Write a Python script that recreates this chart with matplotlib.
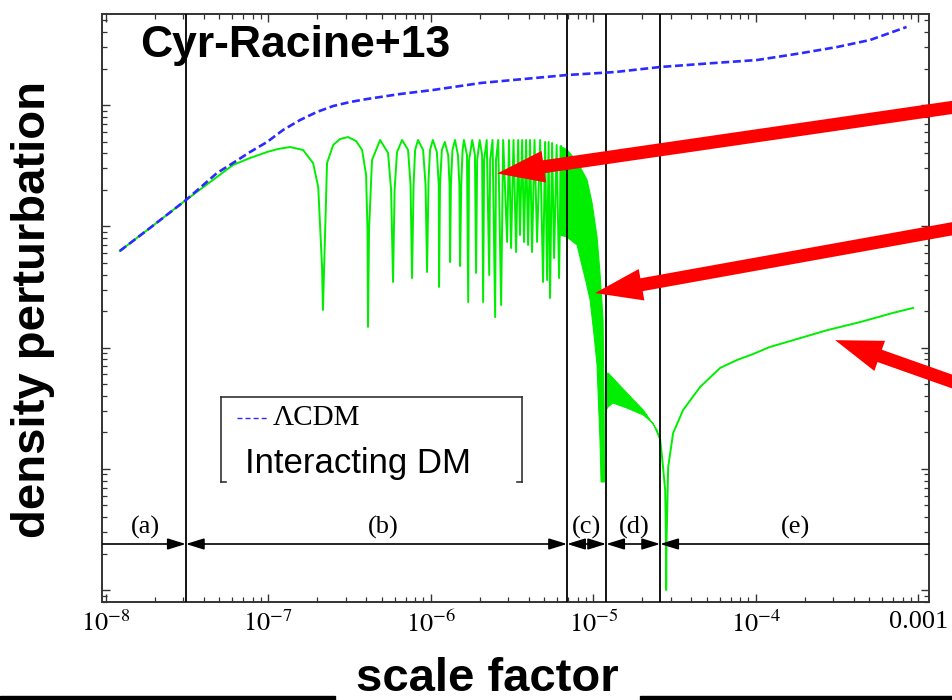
import numpy as np
import matplotlib
matplotlib.use("Agg")
import matplotlib.pyplot as plt
from matplotlib.lines import Line2D
from matplotlib.patches import Rectangle
from matplotlib.ticker import NullFormatter

plt.rcParams['mathtext.fontset'] = 'stix'

# ---- data (scale factor a, density perturbation delta) ----
# LCDM (dashed blue)
a_lcdm = [1.22e-8, 1.87e-8, 3.12e-8, 4.84e-8, 6.07e-8, 7.73e-8, 9.83e-8, 1.233e-7, 1.57e-7,
          1.99e-7, 2.51e-7, 3.19e-7, 4.055e-7, 6.47e-7, 1.033e-6, 2.03e-6, 6.90e-6, 1.362e-5,
          2.58e-5, 5.23e-5, 1.02e-4, 1.873e-4, 3.17e-4, 5.05e-4, 8.47e-4]
d_lcdm = [625, 967, 1647, 2750, 3324, 4097, 4953, 6220, 7520,
          8753, 9812, 10585, 11206, 12320, 13297, 15186, 17677, 18700,
          20579, 22075, 23500, 26670, 30090, 34360, 43990]

# Interacting DM: growth + acoustic oscillations (green)
a_osc = [1.22e-8, 1.87e-8, 3.12e-8, 6.07e-8, 7.73e-8, 9.83e-8, 1.149e-7, 1.36e-7, 1.637e-7, 1.887e-7,
         2.03e-7, 2.143e-7, 2.17e-7,
         2.24e-7, 2.30e-7, 2.51e-7, 2.766e-7, 3.10e-7, 3.47e-7, 3.78e-7, 4.00e-7, 4.08e-7, 4.11e-7,
         4.17e-7, 4.35e-7,
         4.88e-7, 5.46e-7, 5.70e-7, 5.86e-7, 5.99e-7, 6.20e-7, 6.66e-7, 7.25e-7, 7.51e-7, 7.67e-7,
         7.84e-7, 8.01e-7, 8.35e-7, 8.97e-7, 9.29e-7, 9.49e-7, 9.69e-7, 9.90e-7, 1.03e-6, 1.09e-6,
         1.12e-6, 1.125e-6, 1.14e-6, 1.17e-6, 1.22e-6, 1.28e-6, 1.305e-6, 1.315e-6, 1.33e-6, 1.36e-6,
         1.41e-6, 1.47e-6, 1.50e-6, 1.515e-6, 1.54e-6, 1.57e-6, 1.60e-6, 1.67e-6, 1.70e-6, 1.72e-6,
         1.80e-6, 1.87e-6, 1.90e-6, 1.93e-6, 2.00e-6, 2.07e-6, 2.10e-6, 2.13e-6, 2.21e-6, 2.29e-6,
         2.32e-6, 2.40e-6, 2.49e-6, 2.52e-6, 2.60e-6, 2.71e-6, 2.79e-6, 2.95e-6, 3.03e-6, 3.12e-6,
         3.23e-6, 3.35e-6, 3.45e-6, 3.54e-6, 3.65e-6, 3.75e-6, 3.86e-6, 3.97e-6, 4.08e-6, 4.20e-6,
         4.35e-6, 4.51e-6, 4.71e-6, 4.91e-6, 5.05e-6, 5.20e-6, 5.31e-6, 5.42e-6, 5.58e-6, 5.74e-6,
         5.95e-6, 6.16e-6, 6.34e-6, 6.52e-6]
d_osc = [625, 967, 1647, 3201, 3655, 4097, 4336, 4504, 4256, 3324,
         2108, 461, 204,
         931, 3324, 4679, 5243, 5446, 5047, 4256, 2647, 931, 148,
         931, 3519,
         5144, 4019, 1991, 347, 1991, 4097, 5144, 4256, 2189, 374,
         2189, 4256, 5144, 4256, 2189, 419, 2407, 4256, 5144, 4097,
         2189, 316, 2189, 4256, 4953, 3869, 2189, 507, 2189, 4256,
         5144, 3869, 2189, 470, 2189, 4256, 5144, 3869, 237, 3519,
         5144, 3869, 412, 3519, 5144, 3869, 237, 3519, 5144, 396,
         3519, 5144, 178, 3519, 5144, 224, 5144, 742, 5144, 662,
         5144, 613, 5144, 847, 5144, 742, 5144, 701, 5144, 613,
         5144, 742, 5144, 347, 4953, 360, 4953, 256, 4861, 547,
         4679, 374, 4591, 847]

# unresolved fast oscillations during the fall-off (band outline, clockwise)
a_band_c = [6.25e-6, 6.90e-6, 7.51e-6, 8.30e-6, 9.16e-6, 9.83e-6, 1.055e-5, 1.10e-5, 1.149e-5,
            1.165e-5, 1.173e-5, 1.117e-5, 1.10e-5, 1.055e-5, 1.011e-5, 9.56e-6, 9.03e-6,
            8.66e-6, 7.95e-6, 6.90e-6, 6.25e-6]
d_band_c = [4591, 4256, 3725, 3082, 2407, 1555, 815, 412, 169,
            36.9, 7.78, 7.78, 17.3, 71.7, 127, 247, 347,
            436, 701, 815, 847]

a_band_d = [1.20e-5, 1.233e-5, 1.32e-5, 1.61e-5, 2.03e-5, 2.47e-5, 2.58e-5,
            2.33e-5, 2.03e-5, 1.61e-5, 1.32e-5, 1.233e-5, 1.20e-5]
d_band_d = [59.3, 61.6, 56.0, 42.1, 30.5, 20.9, 17.3,
            23.8, 27.8, 31.7, 34.9, 32.3, 30.5]

# late growth after the zero crossing
a_late = [2.58e-5, 2.65e-5, 2.77e-5, 2.80e-5, 2.81e-5, 2.825e-5, 2.89e-5, 3.10e-5, 3.57e-5,
          4.54e-5, 6.03e-5, 7.67e-5, 9.62e-5, 1.22e-4, 1.70e-4, 2.75e-4, 4.38e-4, 7.00e-4, 9.29e-4]
d_late = [17.3, 12.5, 6.68, 2.58, 1.0, 2.58, 10.3, 19.7, 30.5,
          47.2, 67.8, 78.9, 88.3, 101, 115, 139, 162, 193, 212]

# epoch boundaries and labels
bounds = [3.11e-8, 6.90e-6, 1.20e-5, 2.58e-5]
epoch_labels = ['(a)', '(b)', '(c)', '(d)', '(e)']
epoch_label_x = [1.745e-8, 5.09e-7, 9.03e-6, 1.78e-5, 1.745e-4]

xtick_vals = [1e-8, 1e-7, 1e-6, 1e-5, 1e-4, 1e-3]
xtick_labels = [r'$10^{-8}$', r'$10^{-7}$', r'$10^{-6}$', r'$10^{-5}$', r'$10^{-4}$', '0.001']

# arrow tips (data) for the red call-outs
arrow_tips = [(2.56e-6, 2723), (1.026e-5, 281), (3.08e-4, 115)]
arrow_tails_px = [(962, 594), (962, 473), (962, 315)]

xlim = (9.55e-9, 1.164e-3)
ylim = (0.792, 56300)

W, H = 953, 700
green = '#00ee00'
blue = '#2b2bff'

fig = plt.figure(figsize=(W / 100, H / 100), dpi=100)
ax = fig.add_axes([102.5 / W, 1 - 602.3 / H, (929 - 102.5) / W, (602.3 - 14) / H])
ax.set_xscale('log')
ax.set_yscale('log')
ax.set_xlim(*xlim)
ax.set_ylim(*ylim)

ax.plot(a_lcdm, d_lcdm, color=blue, lw=1.9, ls=(0, (3.0, 1.4)), zorder=4)
ax.plot(a_osc, d_osc, color=green, lw=1.4, zorder=2)
ax.fill(a_band_c, d_band_c, color=green, lw=0.8, zorder=2)
ax.fill(a_band_d, d_band_d, color=green, lw=0.8, zorder=2)
ax.plot(a_late, d_late, color=green, lw=1.4, zorder=2)

for b in bounds:
    ax.axvline(b, color='black', lw=1.3, zorder=3)

# epoch bar with arrows
y_bar = 0.0991
edges = [xlim[0]] + bounds + [xlim[1]]
styles = ['-|>', '<|-|>', '<|-|>', '<|-|>', '<|-']
for i, st in enumerate(styles):
    ax.annotate('', xy=(edges[i + 1], y_bar), xytext=(edges[i], y_bar),
                xycoords=('data', 'axes fraction'), textcoords=('data', 'axes fraction'),
                arrowprops=dict(arrowstyle=st + ',head_length=0.55,head_width=0.17',
                                color='black', lw=1.2, shrinkA=0, shrinkB=0,
                                mutation_scale=20))
for lab, xl in zip(epoch_labels, epoch_label_x):
    ax.text(xl, 0.128, lab, transform=ax.get_xaxis_transform(), ha='center', va='center',
            fontsize=19, family='Liberation Serif')

# ticks
ax.set_xticks(xtick_vals)
ax.set_xticklabels(xtick_labels)
ax.xaxis.set_minor_formatter(NullFormatter())
ax.yaxis.set_major_formatter(NullFormatter())
ax.yaxis.set_minor_formatter(NullFormatter())
ax.tick_params(which='both', direction='in', top=True, right=True, color='#333333')
ax.tick_params(which='major', length=6, width=1.0, pad=6)
ax.tick_params(which='minor', length=3.5, width=0.9)
ax.tick_params(axis='x', labelsize=19)
for lab in ax.get_xticklabels():
    lab.set_family('Liberation Serif')
for sp in ax.spines.values():
    sp.set_color('#333333')
    sp.set_linewidth(1.4)

# texts
fig.text(140 / W, 1 - 57 / H, 'Cyr-Racine+13', fontsize=32,
         fontweight='bold', family='Liberation Sans', ha='left', va='baseline')
fig.text(33 / W, 1 - 309 / H, 'density perturbation', rotation=90, fontsize=34,
         fontweight='bold', family='Liberation Sans', ha='center', va='center')
fig.text(487.5 / W, 9 / H, 'scale factor', fontsize=34, fontweight='bold',
         family='Liberation Sans', ha='center', va='baseline')

# legend (open-bottom frame like the original)
def fpx(x, y):
    return x / W, 1 - y / H

frame = [((221, 397), (522, 397)), ((221, 397), (221, 482)), ((221, 482), (226, 482)),
         ((522, 397), (522, 482)), ((517, 482), (522, 482))]
for (x0, y0), (x1, y1) in frame:
    p0, p1 = fpx(x0, y0), fpx(x1, y1)
    fig.add_artist(Line2D([p0[0], p1[0]], [p0[1], p1[1]], color='#333333', lw=1.2,
                          transform=fig.transFigure))
p0, p1 = fpx(237, 418), fpx(267, 418)
fig.add_artist(Line2D([p0[0], p1[0]], [p0[1], p1[1]], color=blue, lw=1.0,
                      ls=(0, (3.6, 2.2)), transform=fig.transFigure))
fig.text(273 / W, 1 - 418 / H, 'ΛCDM', fontsize=21, family='Liberation Serif',
         ha='left', va='center')
fig.text(245 / W, 1 - 473 / H, 'Interacting DM', fontsize=25, family='Liberation Sans',
         ha='left', va='baseline')

# red call-out arrows
for (xa, ya), (xt, yt) in zip(arrow_tips, arrow_tails_px):
    ax.annotate('', xy=(xa, ya), xycoords='data', xytext=(xt, yt), textcoords='figure pixels',
                annotation_clip=False,
                arrowprops=dict(arrowstyle='simple,head_length=1.7,head_width=1.15,tail_width=0.47',
                                color='red', lw=0, shrinkA=0, shrinkB=0, mutation_scale=20))

# slide decoration bars at the bottom
fig.add_artist(Rectangle((0, 0), 335 / W, 4 / H, color='black', transform=fig.transFigure))
fig.add_artist(Rectangle((640 / W, 0), 313 / W, 4 / H, color='black', transform=fig.transFigure))

fig.savefig('out.png', dpi=100)
